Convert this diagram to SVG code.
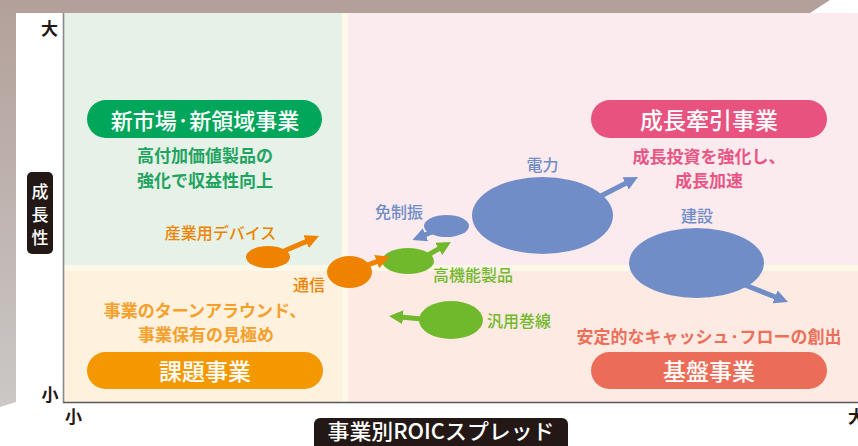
<svg xmlns="http://www.w3.org/2000/svg" width="858" height="446" viewBox="0 0 858 446">
<defs>
<linearGradient id="lg" x1="0" y1="0" x2="0" y2="1">
<stop offset="0" stop-color="#b3a09a"/>
<stop offset="1" stop-color="#cbc8c6"/>
</linearGradient>
<marker id="hO" markerUnits="userSpaceOnUse" markerWidth="15" markerHeight="14" refX="3" refY="7" orient="auto"><path d="M0,0 L14,7 L0,14 z" fill="#ef8300"/></marker>
<marker id="hB" markerUnits="userSpaceOnUse" markerWidth="15" markerHeight="14" refX="3" refY="7" orient="auto"><path d="M0,0 L14,7 L0,14 z" fill="#708dc7"/></marker>
<marker id="hG" markerUnits="userSpaceOnUse" markerWidth="15" markerHeight="14" refX="3" refY="7" orient="auto"><path d="M0,0 L14,7 L0,14 z" fill="#71b92c"/></marker>
</defs>
<style>
text{font-family:"Noto Sans CJK JP","Noto Sans",sans-serif}
.pill{font-size:23px;font-weight:500;fill:#fff;text-anchor:middle}
.desc{font-size:17px;font-weight:700;text-anchor:middle}
.lbl{font-size:16px;font-weight:500}
.ax{font-size:17px;font-weight:700;fill:#231815}
.yl{font-size:17px;font-weight:500;fill:#fff;text-anchor:middle}
.arO{stroke:#ef8300;stroke-width:5;fill:none;marker-end:url(#hO)}
.arB{stroke:#708dc7;stroke-width:5;fill:none;marker-end:url(#hB)}
.arG{stroke:#71b92c;stroke-width:5;fill:none;marker-end:url(#hG)}
</style>
<!-- frame -->
<rect x="0" y="0" width="858" height="446" fill="#fff"/>
<polygon points="0,0 830,0 810,13 0,13" fill="#b3a09a"/>
<polygon points="0,0 16,0 16,402 0,407" fill="url(#lg)"/>
<rect x="16" y="13" width="842" height="433" fill="#fff"/>
<!-- quadrants -->
<rect x="64" y="13" width="794" height="389" fill="#fef8e9"/>
<rect x="64" y="13" width="278" height="252" fill="#e6f2e7"/>
<rect x="348" y="13" width="510" height="252" fill="#fbeaee"/>
<rect x="64" y="271" width="278" height="131" fill="#fef1de"/>
<rect x="348" y="271" width="510" height="131" fill="#fdeae3"/>
<!-- axes -->
<line x1="63.5" y1="13" x2="63.5" y2="402.5" stroke="#8a8a8a" stroke-width="1.6"/>
<line x1="63" y1="402.5" x2="858" y2="402.5" stroke="#5a5757" stroke-width="1.6"/>
<text class="ax" x="49.5" y="35" text-anchor="middle">大</text>
<text class="ax" x="50" y="401" text-anchor="middle">小</text>
<text class="ax" x="73.5" y="423" text-anchor="middle">小</text>
<text class="ax" x="848" y="423">大</text>
<g id="yaxis-label">
<rect x="27" y="172" width="26" height="82" rx="5" fill="#231815"/>
<text class="yl" x="40" y="197.5">成</text>
<text class="yl" x="40" y="220.5">長</text>
<text class="yl" x="40" y="243.5">性</text>
</g>
<g id="xaxis-label">
<rect x="314" y="418" width="254" height="36" rx="6" fill="#231815"/>
<text x="441" y="439" font-size="21" font-weight="500" fill="#fff" text-anchor="middle" textLength="227" lengthAdjust="spacingAndGlyphs">事業別ROICスプレッド</text>
</g>
<!-- quadrant labels -->
<g id="q-new">
<rect x="87" y="100" width="235" height="38" rx="19" fill="#00a65a"/>
<text class="pill" x="205" y="128.5" style="font-size:22px">新市場·新領域事業</text>
<text class="desc" x="205" y="162" fill="#1fa462">高付加価値製品の</text>
<text class="desc" x="205" y="186.5" fill="#1fa462">強化で収益性向上</text>
</g>
<g id="q-growth">
<rect x="591" y="100" width="236" height="38" rx="19" fill="#e8527f"/>
<text class="pill" x="709" y="128.5">成長牽引事業</text>
<text class="desc" x="709" y="163" fill="#e85585">成長投資を強化し、</text>
<text class="desc" x="709" y="186.5" fill="#e85585">成長加速</text>
</g>
<g id="q-issue">
<rect x="87" y="352" width="236" height="37" rx="18.5" fill="#f39800"/>
<text class="pill" x="205" y="379.5">課題事業</text>
<text class="desc" x="205" y="317" fill="#f5a02a">事業のターンアラウンド、</text>
<text class="desc" x="206" y="341" fill="#f5a02a">事業保有の見極め</text>
</g>
<g id="q-base">
<rect x="591" y="352" width="236" height="37" rx="18.5" fill="#ec6d57"/>
<text class="pill" x="709" y="379.5">基盤事業</text>
<text class="desc" x="709" y="342.5" fill="#ec6f5a">安定的なキャッシュ·フローの創出</text>
</g>
<!-- bubbles -->
<g id="b-power">
<ellipse cx="542.5" cy="215.5" rx="70.5" ry="38.5" fill="#708dc7"/>
<text class="lbl" x="542.5" y="171" fill="#708dc7" text-anchor="middle">電力</text>
</g>
<g id="b-const">
<ellipse cx="696.5" cy="263" rx="67.5" ry="35" fill="#708dc7"/>
<text class="lbl" x="697" y="221.5" fill="#708dc7" text-anchor="middle">建設</text>
</g>
<g id="b-seismic">
<ellipse cx="446.5" cy="226" rx="22.5" ry="11" fill="#708dc7"/>
<text class="lbl" x="399" y="218" fill="#708dc7" text-anchor="middle">免制振</text>
</g>
<g id="b-hifunc">
<ellipse cx="408" cy="261" rx="26" ry="13" fill="#71b92c"/>
<text class="lbl" x="433" y="281" fill="#71b92c">高機能製品</text>
</g>
<g id="b-general">
<ellipse cx="451" cy="320" rx="32" ry="19" fill="#71b92c"/>
<text class="lbl" x="487" y="326.5" fill="#71b92c">汎用巻線</text>
</g>
<g id="b-comm">
<ellipse cx="349.5" cy="272" rx="22.5" ry="16" fill="#ef8300"/>
<text class="lbl" x="309" y="290.5" fill="#ef8300" text-anchor="middle">通信</text>
</g>
<g id="b-device">
<ellipse cx="268" cy="257" rx="22" ry="11" fill="#ef8300"/>
<text class="lbl" x="220.5" y="239" fill="#ef8300" text-anchor="middle">産業用デバイス</text>
</g>
<!-- connectors -->
<g id="arrows">
<line class="arO" x1="284" y1="251" x2="308.9" y2="240.4"/>
<line class="arO" x1="365" y1="266" x2="379.5" y2="260.6"/>
<line class="arG" x1="428" y1="255" x2="441.4" y2="247.4"/>
<line class="arB" x1="432" y1="232" x2="422.7" y2="235.8"/>
<line class="arB" x1="595" y1="199" x2="628.2" y2="182"/>
<line class="arB" x1="740" y1="283" x2="777.8" y2="298"/>
<line class="arG" x1="422" y1="319" x2="400" y2="317"/>
</g>
</svg>
